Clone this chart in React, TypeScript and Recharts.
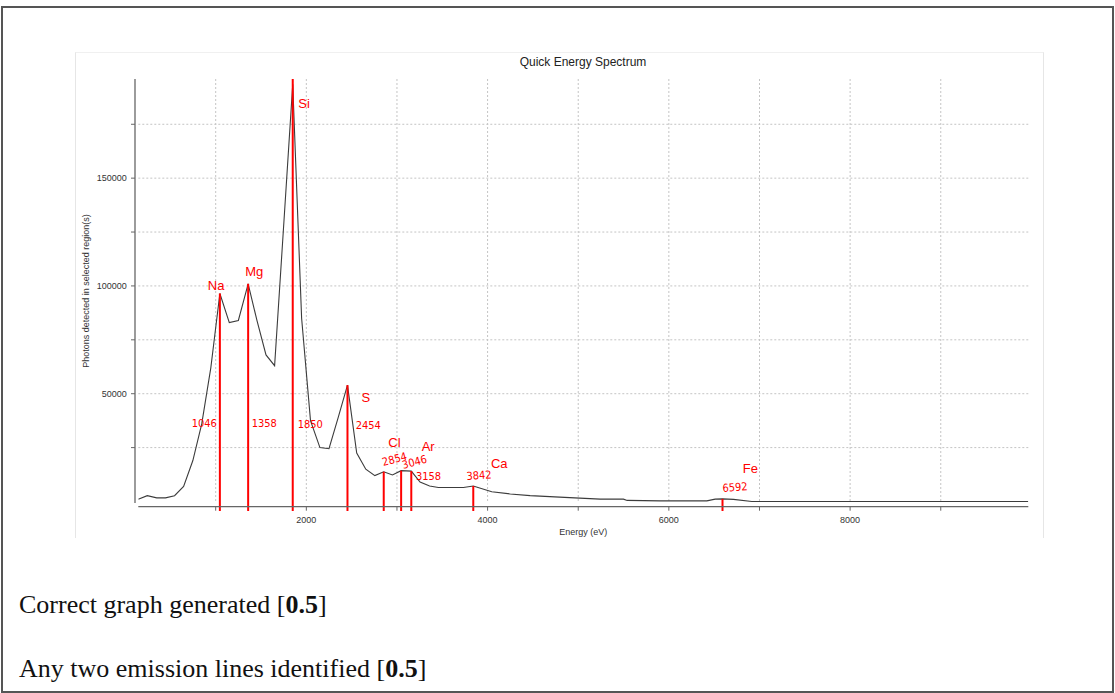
import React from 'react';
import {
  LineChart,
  Line,
  XAxis,
  YAxis,
  CartesianGrid,
  ReferenceLine,
  ReferenceDot,
} from 'recharts';

// ---- data ----
const energies = [
  146, 245, 349, 446, 546, 646, 748, 846, 946, 1046, 1150, 1250, 1358, 1455, 1555,
  1650, 1750, 1850, 1948, 2046, 2150, 2250, 2352, 2454, 2556, 2656, 2756, 2854, 2950,
  3046, 3158, 3255, 3360, 3457, 3733, 3842, 4046, 4250, 4469, 4850, 5242, 5499, 5540,
  5904, 6419, 6511, 6592, 6713, 6916, 9966,
];
const counts = [
  1000, 2700, 1700, 1700, 2700, 7000, 19000, 36000, 62000, 96500, 83000, 84000, 101000,
  84000, 68000, 63000, 128000, 193500, 85000, 37500, 25000, 24500, 39000, 54000, 22500,
  15000, 12000, 13800, 12300, 14300, 14100, 9000, 7200, 6500, 6500, 7200, 4500, 3500,
  2700, 1900, 1100, 1100, 500, 300, 300, 1100, 1200, 1000, 0, 0,
];

const xTicks = [1000, 2000, 3000, 4000, 5000, 6000, 7000, 8000, 9000];
const yTicks = [25000, 50000, 75000, 100000, 125000, 150000, 175000];

// hand-marked emission lines
const lineEnergies = [1046, 1358, 1850, 2454, 2854, 3046, 3158, 3842, 6592];
const lineTops = [96500, 101000, 196000, 54000, 13800, 14300, 14100, 7200, 1200];
const lineNumbers = ['1046', '1358', '1850', '2454', '2854', '3046', '3158', '3842', '6592'];
const elementNames = ['Na', 'Mg', 'Si', 'S', 'Cl', '', 'Ar', 'Ca', 'Fe'];

const spectrum = energies.map((e, i) => ({ e, c: counts[i] }));

// ---- layout (pixel offsets of the handwritten labels from the line top) ----
const nameOffsets = [
  [-12, -3.5], [-3, -8], [5.6, 29], [14, 16.6], [4.6, -25], [0, 0], [10.4, -20.4], [17.7, -18], [20.2, -26],
];
const numberOffsets = [
  [-28.2, 134, 0], [3.6, 143.7, 0], [5, 348.5, 0], [8.2, 43.9, 0], [-0.4, -5.7, -15],
  [2.2, -1.7, -15], [4.7, 8.9, 0], [-6.6, -6, -4], [0.2, -7, -4],
];

const RED = '#ff0000';
const AXIS_FONT = "'Liberation Sans', Arial, sans-serif";
const HAND_FONT = "'Liberation Sans Narrow', 'DejaVu Sans Condensed', 'Liberation Sans', sans-serif";

const makeAnnotation = (i: number) => (props: any) => {
  const cx = props.cx;
  const cy = props.cy;
  if (cx == null || cy == null) return <g />;
  const [ndx, ndy] = nameOffsets[i];
  const [mdx, mdy, rot] = numberOffsets[i];
  const nx = cx + mdx;
  const ny = cy + mdy;
  return (
    <g>
      {elementNames[i] ? (
        <text x={cx + ndx} y={cy + ndy} fill={RED} fontSize={13} fontFamily={AXIS_FONT}>
          {elementNames[i]}
        </text>
      ) : null}
      <text
        x={nx}
        y={ny}
        fill={RED}
        fontSize={11}
        fontFamily={HAND_FONT}
        transform={rot ? `rotate(${rot} ${nx} ${ny})` : undefined}
      >
        {lineNumbers[i]}
      </text>
    </g>
  );
};

const yLabel = (props: any) => {
  const vb = props && props.viewBox ? props.viewBox : { x: 78.3, y: 79, width: 60, height: 424 };
  const x = vb.x + 11;
  const y = vb.y + vb.height / 2;
  return (
    <text
      x={x}
      y={y}
      textAnchor="middle"
      fontSize={9}
      fill="#333"
      fontFamily={AXIS_FONT}
      transform={`rotate(-90 ${x} ${y})`}
    >
      Photons detected in selected region(s)
    </text>
  );
};

export default function App() {
  return (
    <div style={{ position: 'absolute', left: 0, top: 0, width: 1115, height: 693, background: '#fff' }}>
      {/* outer frame */}
      <div
        style={{
          position: 'absolute',
          left: 1,
          top: 6,
          width: 1113,
          height: 687,
          border: '2px solid #555',
          boxSizing: 'border-box',
        }}
      />
      {/* chart panel */}
      <div
        style={{
          position: 'absolute',
          left: 75,
          top: 52,
          width: 969,
          height: 486,
          borderLeft: '1px solid #e6e6e6',
          borderTop: '1px solid #f0f0f0',
          borderRight: '1px solid #e6e6e6',
          boxSizing: 'border-box',
        }}
      />
      <div
        style={{
          position: 'absolute',
          left: 583,
          top: 55,
          transform: 'translateX(-50%)',
          whiteSpace: 'nowrap',
          fontSize: 12,
          lineHeight: '14px',
          fontFamily: AXIS_FONT,
          color: '#222',
        }}
      >
        Quick Energy Spectrum
      </div>
      <div style={{ position: 'absolute', left: 0, top: 0 }}>
        <LineChart
          width={1115}
          height={693}
          data={spectrum}
          margin={{ top: 79, right: 86.7, left: 78.3, bottom: 155 }}
        >
          <CartesianGrid
            stroke="#c4c4c4"
            strokeDasharray="2 2"
            horizontalValues={yTicks}
            verticalValues={xTicks}
          />
          <XAxis
            dataKey="e"
            type="number"
            domain={[146, 9966]}
            allowDataOverflow
            ticks={xTicks}
            interval={0}
            tickFormatter={(v: number) => (v % 2000 === 0 ? String(v) : '')}
            height={35}
            tickSize={4}
            tickMargin={10}
            axisLine={{ stroke: '#666', strokeWidth: 1.3, transform: 'translate(0,3.7)' }}
            tickLine={{ stroke: '#666', transform: 'translate(0,3.7)' }}
            tick={{ fontSize: 9, fill: '#333', fontFamily: AXIS_FONT }}
            label={{ value: 'Energy (eV)', position: 'insideBottom', offset: 3.5, fontSize: 9, fill: '#333', fontFamily: AXIS_FONT }}
          />
          <YAxis
            type="number"
            domain={[-700, 196000]}
            allowDataOverflow
            ticks={yTicks}
            interval={0}
            tickFormatter={(v: number) => (v % 50000 === 0 ? String(v) : '')}
            width={60}
            tickSize={4}
            tickMargin={7.6}
            axisLine={{ stroke: '#666', strokeWidth: 1.3, transform: 'translate(-3.3,0)' }}
            tickLine={{ stroke: '#666', transform: 'translate(-3.3,0)' }}
            tick={{ fontSize: 9, fill: '#333', fontFamily: AXIS_FONT }}
            label={yLabel}
          />
          <Line
            type="linear"
            dataKey="c"
            stroke="#3c3c3c"
            strokeWidth={1.1}
            dot={false}
            activeDot={false}
            isAnimationActive={false}
          />
          {lineEnergies.map((e, i) => (
            <ReferenceLine
              key={'l' + i}
              segment={[
                { x: e, y: lineTops[i] },
                { x: e, y: -4400 },
              ]}
              stroke={RED}
              strokeWidth={2}
              ifOverflow="visible"
            />
          ))}
          {lineEnergies.map((e, i) => (
            <ReferenceDot
              key={'d' + i}
              x={e}
              y={lineTops[i]}
              r={0}
              ifOverflow="visible"
              shape={makeAnnotation(i)}
            />
          ))}
        </LineChart>
      </div>
      <div
        style={{
          position: 'absolute',
          left: 19,
          top: 590,
          fontFamily: "'Liberation Serif', 'Times New Roman', serif",
          fontSize: 26,
          lineHeight: '30px',
          color: '#111',
          whiteSpace: 'nowrap',
        }}
      >
        Correct graph generated [<b>0.5</b>]
      </div>
      <div
        style={{
          position: 'absolute',
          left: 19,
          top: 654,
          fontFamily: "'Liberation Serif', 'Times New Roman', serif",
          fontSize: 26,
          lineHeight: '30px',
          color: '#111',
          whiteSpace: 'nowrap',
        }}
      >
        Any two emission lines identified [<b>0.5</b>]
      </div>
    </div>
  );
}
